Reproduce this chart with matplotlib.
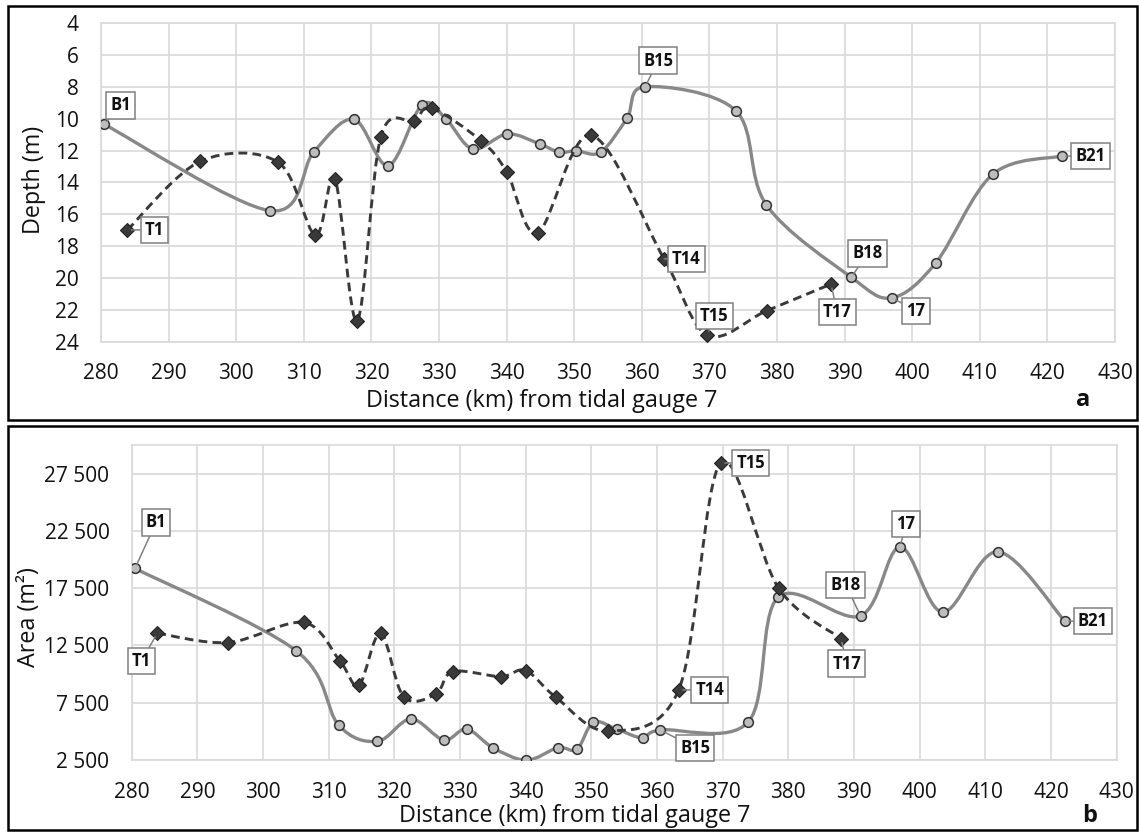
import numpy as np
import matplotlib
matplotlib.use("Agg")
import matplotlib.pyplot as plt
from matplotlib.path import Path
from matplotlib.patches import PathPatch, Rectangle
from matplotlib.ticker import FuncFormatter

plt.rcParams['font.family'] = ['Open Sans', 'DejaVu Sans']

# ---------------- data ----------------
bed_km = [280.5, 305.0, 311.5, 317.4, 322.5, 327.5, 331.0, 335.0, 340.1, 344.9, 347.8,
          350.3, 353.9, 357.8, 360.5, 373.9, 378.4, 391.0, 397.0, 403.5, 411.9, 422.1]
bed_depth = [10.35, 15.77, 12.06, 10.03, 12.94, 9.11, 9.99, 11.9, 10.95, 11.58, 12.1,
             12.0, 12.1, 9.97, 7.98, 9.49, 15.39, 19.96, 21.24, 19.04, 13.49, 12.34]
bed_area = [19225, 12057, 5559, 4132, 6084, 4248, 5210, 3578, 2480, 3578, 3432,
            5793, 5181, 4423, 5123, 5822, 16691, 15088, 21091, 15409, 20683, 14622]

thalweg_km = [283.9, 294.7, 306.2, 311.7, 314.6, 317.9, 321.4, 326.3, 328.9, 336.2,
              340.0, 344.6, 352.5, 363.3, 369.7, 378.5, 388.0]
thalweg_depth = [16.98, 12.67, 12.73, 17.3, 13.78, 22.68, 11.12, 10.12, 9.34, 11.37,
                 13.32, 17.15, 11.02, 18.8, 23.58, 22.05, 20.38]
thalweg_area = [13572, 12757, 14505, 11154, 9027, 13572, 8036, 8250, 10222, 9785,
                10310, 7978, 5035, 8619, 28435, 17507, 13107]

bed_labels = {0: "B1", 14: "B15", 17: "B18", 18: "17", 21: "B21"}
thalweg_labels = {0: "T1", 13: "T14", 14: "T15", 16: "T17"}

x_ticks = list(range(280, 431, 10))
depth_ticks = list(range(4, 25, 2))
area_ticks = [2500, 7500, 12500, 17500, 22500, 27500]

xlabel = "Distance (km) from tidal gauge 7"

# label offsets in pixels (dx, dy up)
off_a_bed = {"B1": (16, 19), "B15": (13, 26), "B18": (16, 24), "17": (24, -13), "B21": (29, 0)}
off_a_th = {"T1": (27, 0), "T14": (22, 0), "T15": (7, 19), "T17": (6, -28)}
off_b_bed = {"B1": (21, 46), "B15": (35, -18), "B18": (-15, 31), "17": (6, 23), "B21": (28, 0)}
off_b_th = {"T1": (-16, -28), "T14": (31, 0), "T15": (30, 0), "T17": (6, -25)}

W, H = 1139, 832
fig = plt.figure(figsize=(W / 100, H / 100), dpi=100)

TXT = '#111111'
GRID = '#d9d9d9'
BED_LINE = '#888888'
BED_FACE = '#bdbdbd'
TH_COL = '#3a3a3a'
TICK_FS = 15
TITLE_FS = 16.8


def smooth_path(x, y):
    pts = np.column_stack([np.asarray(x, float), np.asarray(y, float)])
    n = len(pts)
    verts = [pts[0]]
    codes = [Path.MOVETO]
    for i in range(n - 1):
        p0 = pts[i - 1] if i > 0 else pts[i]
        p1 = pts[i]
        p2 = pts[i + 1]
        p3 = pts[i + 2] if i + 2 < n else pts[i + 1]
        c1 = p1 + (p2 - p0) / 6.0
        c2 = p2 - (p3 - p1) / 6.0
        verts += [c1, c2, p2]
        codes += [Path.CURVE4] * 3
    return Path(verts, codes)


def px_axes(left, top, right, bottom):
    return fig.add_axes([left / W, 1 - bottom / H, (right - left) / W, (bottom - top) / H])


def style_axes(ax):
    ax.set_xlim(280, 430)
    ax.set_xticks(x_ticks)
    ax.grid(True, color=GRID, lw=1.2)
    ax.set_axisbelow(True)
    for s in ax.spines.values():
        s.set_color(GRID)
        s.set_linewidth(1.2)
    ax.tick_params(length=0, labelsize=TICK_FS, colors=TXT)


def ann(ax, x, y, text, off):
    ax.annotate(text, xy=(x, y), xytext=off, textcoords='offset pixels',
                ha='center', va='center', fontsize=12, fontweight='bold', color=TXT,
                bbox=dict(boxstyle='square,pad=0.25', fc='white', ec='#808080', lw=1.1),
                arrowprops=dict(arrowstyle='-', color='#808080', lw=1.1,
                                shrinkA=0, shrinkB=3),
                zorder=10)


def draw_series(ax, bx, by, tx, ty, bl, tl, off_b, off_t):
    ax.add_patch(PathPatch(smooth_path(bx, by), fill=False, ec=BED_LINE, lw=2.4,
                           capstyle='round', zorder=3))
    ax.plot(bx, by, ls='none', marker='o', ms=7.0, mfc=BED_FACE, mec='#333333',
            mew=1.1, zorder=4)
    ax.add_patch(PathPatch(smooth_path(tx, ty), fill=False, ec=TH_COL, lw=2.1,
                           ls=(0, (3.0, 1.8)), zorder=5))
    ax.plot(tx, ty, ls='none', marker='D', ms=7.4, mfc=TH_COL, mec='#222222',
            mew=0.8, zorder=6)
    for idx, lab in bl.items():
        ann(ax, bx[idx], by[idx], lab, off_b[lab])
    for idx, lab in tl.items():
        ann(ax, tx[idx], ty[idx], lab, off_t[lab])


# ---------------- panel a ----------------
axa = px_axes(101, 23.3, 1115, 341.7)
style_axes(axa)
axa.set_ylim(24, 4)
axa.set_yticks(depth_ticks)
axa.tick_params(axis='y', pad=16)
axa.tick_params(axis='x', pad=15)
draw_series(axa, bed_km, bed_depth, thalweg_km, thalweg_depth,
            bed_labels, thalweg_labels, off_a_bed, off_a_th)
fig.text(34 / W, 1 - 180 / H, "Depth (m)", rotation=90, ha='center', va='center',
         fontsize=TITLE_FS, color=TXT)
fig.text(542 / W, 1 - 407 / H, xlabel, ha='center', va='baseline', fontsize=TITLE_FS,
         color=TXT)
fig.text(1083 / W, 1 - 406 / H, "a", ha='center', va='baseline', fontsize=17,
         fontweight='bold', color=TXT)

# ---------------- panel b ----------------
axb = px_axes(131.7, 445, 1116.7, 760)
style_axes(axb)
axb.set_ylim(2500, 30000)
axb.set_yticks(area_ticks)
axb.yaxis.set_major_formatter(FuncFormatter(lambda v, p: f"{v:,.0f}".replace(",", " ")))
axb.tick_params(axis='y', pad=16)
axb.tick_params(axis='x', pad=15.5)
draw_series(axb, bed_km, bed_area, thalweg_km, thalweg_area,
            bed_labels, thalweg_labels, off_b_bed, off_b_th)
fig.text(29 / W, 1 - 617 / H, "Area (m²)", rotation=90, ha='center', va='center',
         fontsize=TITLE_FS, color=TXT)
fig.text(575 / W, 1 - 822 / H, xlabel, ha='center', va='baseline', fontsize=TITLE_FS,
         color=TXT)
fig.text(1090 / W, 1 - 822 / H, "b", ha='center', va='baseline', fontsize=17,
         fontweight='bold', color=TXT)

# ---------------- frames ----------------
for (x0, y0, x1, y1) in [(8, 6, 1137, 420), (8, 426, 1137, 830)]:
    fig.add_artist(Rectangle((x0 / W, 1 - y1 / H), (x1 - x0) / W, (y1 - y0) / H,
                             transform=fig.transFigure, fill=False, ec='black', lw=1.8))

fig.savefig("out.png", dpi=100)
